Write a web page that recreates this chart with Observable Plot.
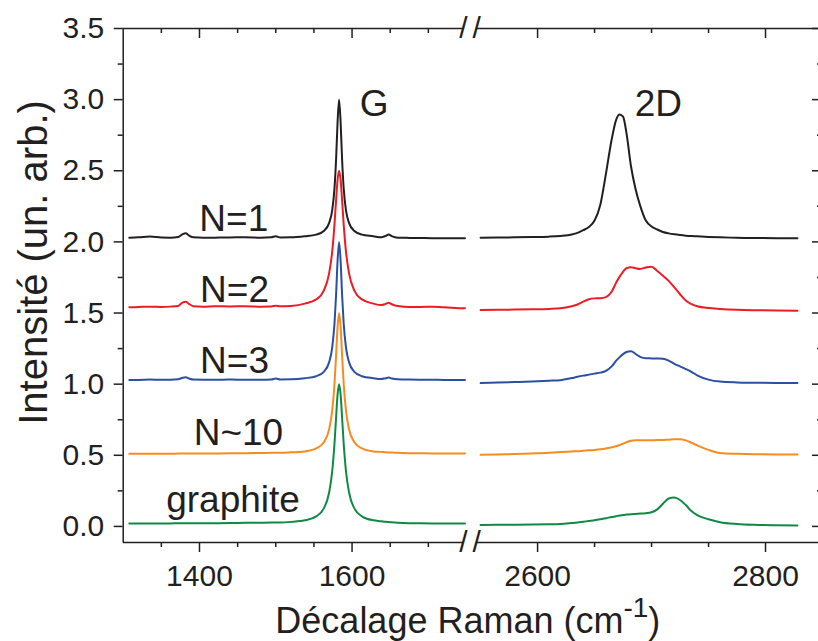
<!DOCTYPE html>
<html>
<head>
<meta charset="utf-8">
<script src="https://cdn.jsdelivr.net/npm/d3@7"></script>
<script src="https://cdn.jsdelivr.net/npm/@observablehq/plot@0.6"></script>
<style>
  body { margin: 0; background: #fff; }
  #chart svg { display: block; }
</style>
</head>
<body>
<div id="chart"></div>
<script>
// ---------- data ----------
const seriesNames = ["N=1", "N=2", "N=3", "N~10", "graphite"];
const seriesColors = ["#231f20", "#ed1c24", "#2b4fa2", "#f68b1f", "#0f8a45"];

// G-band region (cm-1)
const xG = [1308,1320,1335,1350,1362,1372,1378,1382,1386,1392,1405,1420,1440,1460,1480,1494,1500,1506,1520,
            1538,1553,1563,1570,1574,1577,1579,1581,1583,1585,1587,1589,1592,1596,1603,1613,1628,
            1638,1644,1648,1652,1660,1675,1690,1705,1720,1735,1748];

const yG_N1 = [2.030,2.032,2.038,2.031,2.030,2.034,2.055,2.060,2.046,2.032,2.030,2.030,2.031,2.033,2.030,2.032,2.040,2.031,2.032,
               2.040,2.051,2.077,2.134,2.224,2.379,2.572,2.840,3.000,2.840,2.572,2.379,2.224,2.134,2.077,2.051,2.040,
               2.032,2.042,2.052,2.041,2.030,2.028,2.027,2.026,2.026,2.025,2.025];
const yG_N2 = [1.540,1.542,1.545,1.543,1.545,1.550,1.575,1.580,1.565,1.548,1.545,1.548,1.546,1.548,1.545,1.546,1.552,1.547,1.550,
               1.566,1.596,1.658,1.780,1.933,2.125,2.288,2.436,2.500,2.436,2.288,2.125,1.933,1.780,1.658,1.596,1.566,
               1.556,1.564,1.572,1.562,1.549,1.543,1.543,1.544,1.540,1.536,1.534];
const yG_N3 = [1.030,1.030,1.032,1.031,1.031,1.034,1.045,1.048,1.040,1.032,1.031,1.031,1.032,1.031,1.031,1.033,1.040,1.033,1.034,
               1.042,1.056,1.087,1.155,1.259,1.428,1.621,1.866,2.000,1.866,1.621,1.428,1.259,1.155,1.087,1.056,1.042,
               1.036,1.042,1.046,1.040,1.034,1.032,1.031,1.031,1.030,1.030,1.030];
const yG_N10 = [0.510,0.510,0.511,0.511,0.511,0.512,0.512,0.512,0.512,0.512,0.513,0.513,0.514,0.515,0.516,0.517,0.518,0.518,0.521,
                0.527,0.548,0.592,0.684,0.815,1.005,1.195,1.401,1.500,1.401,1.195,1.005,0.815,0.684,0.592,0.548,0.527,
                0.524,0.521,0.520,0.519,0.517,0.515,0.514,0.513,0.513,0.512,0.512];
const yG_graphite = [0.020,0.020,0.021,0.021,0.021,0.022,0.022,0.022,0.022,0.022,0.023,0.023,0.024,0.025,0.026,0.027,0.028,0.028,0.032,
                     0.043,0.071,0.127,0.240,0.389,0.585,0.759,0.926,1.000,0.926,0.759,0.585,0.389,0.240,0.127,0.071,0.043,
                     0.037,0.033,0.031,0.029,0.026,0.023,0.022,0.021,0.020,0.020,0.020];

// 2D-band region (cm-1)
const x2D = [2550,2565,2580,2595,2610,2620,2630,2635,2640,2645,2650,2655,2660,2665,2669,2672,2675,2678,2682,2686,
             2690,2695,2700,2705,2710,2715,2720,2725,2730,2735,2740,2750,2760,2775,2790,2810,2828];

const y2D_N1 = [2.030,2.031,2.032,2.034,2.037,2.042,2.052,2.063,2.082,2.105,2.150,2.260,2.480,2.720,2.860,2.895,2.880,2.765,2.530,2.370,
                2.255,2.150,2.108,2.087,2.070,2.060,2.053,2.048,2.044,2.041,2.039,2.035,2.032,2.029,2.027,2.026,2.025];
const y2D_N2 = [1.522,1.523,1.524,1.526,1.529,1.533,1.548,1.560,1.580,1.597,1.603,1.604,1.612,1.650,1.715,1.756,1.790,1.815,1.822,1.815,
                1.810,1.820,1.826,1.795,1.762,1.726,1.680,1.632,1.588,1.563,1.548,1.535,1.529,1.523,1.520,1.518,1.516];
const y2D_N3 = [1.008,1.011,1.015,1.019,1.024,1.028,1.043,1.052,1.060,1.067,1.074,1.081,1.094,1.125,1.165,1.190,1.211,1.226,1.232,1.212,
                1.192,1.182,1.181,1.180,1.178,1.165,1.143,1.125,1.106,1.087,1.062,1.032,1.018,1.012,1.010,1.009,1.009];
const y2D_N10 = [0.503,0.506,0.509,0.513,0.518,0.523,0.527,0.529,0.532,0.535,0.538,0.542,0.548,0.556,0.563,0.572,0.582,0.592,0.602,0.606,
                 0.606,0.605,0.606,0.607,0.608,0.610,0.612,0.613,0.605,0.588,0.570,0.538,0.516,0.510,0.507,0.506,0.505];
const y2D_graphite = [0.010,0.011,0.012,0.013,0.015,0.017,0.024,0.028,0.033,0.038,0.043,0.050,0.058,0.066,0.072,0.077,0.080,0.083,0.086,0.088,
                      0.090,0.093,0.100,0.120,0.160,0.196,0.203,0.186,0.150,0.108,0.080,0.050,0.030,0.017,0.011,0.008,0.007];

// axis ticks
const majorX = [1400, 1600, 2600, 2800];
const minorX = [1350, 1450, 1500, 1550, 1650, 1700, 2650, 2700, 2750];
const majorY = [0, 0.5, 1, 1.5, 2, 2.5, 3, 3.5];
const minorY = [0.25, 0.75, 1.25, 1.75, 2.25, 2.75, 3.25];

// labels
const curveLabels = ["N=1", "N=2", "N=3", "N~10", "graphite"];
const curveLabelX = [1445, 1446, 1446, 1451, 1444];
const curveLabelY = [2.163, 1.664, 1.165, 0.659, 0.188];
const bandLabels = ["G", "2D"];
const bandLabelX = [1629, 2706];
const bandLabelY = [2.965, 2.965];
const yTitle = "Intensité (un. arb.)";
const xTitleParts = ["Décalage Raman (cm", "-1", ")"];

// broken axis
const xDomain = [1300, 1755, 2545, 2850];
const xRange = [122.7, 469.8, 474.4, 822];
const yDomain = [-0.113, 3.5];
const breakX = [1746, 2546.5];

// ---------- build table ----------
const yGAll = [yG_N1, yG_N2, yG_N3, yG_N10, yG_graphite];
const y2DAll = [y2D_N1, y2D_N2, y2D_N3, y2D_N10, y2D_graphite];
const rows = [];
seriesNames.forEach((name, i) => {
  xG.forEach((x, j) => rows.push({series: name, seg: "G", x, y: yGAll[i][j]}));
  x2D.forEach((x, j) => rows.push({series: name, seg: "2D", x, y: y2DAll[i][j]}));
});
const frameSegs = [{x1: xDomain[0], x2: breakX[0]}, {x1: breakX[1], x2: xDomain[3]}];
const breakMarks = breakX.flatMap(x => yDomain.map(y => ({x, y})));
const curveLabelData = curveLabels.map((t, i) => ({t, x: curveLabelX[i], y: curveLabelY[i]}));
const bandLabelData = bandLabels.map((t, i) => ({t, x: bandLabelX[i], y: bandLabelY[i]}));

const ink = "#231f20";
const font = "'Liberation Sans', Arial, Helvetica, sans-serif";

const plot = Plot.plot({
  width: 818,
  height: 641,
  marginLeft: 122.7,
  marginRight: -4,
  marginTop: 28,
  marginBottom: 99,
  style: {fontFamily: font, overflow: "hidden", background: "white", color: ink},
  x: {type: "linear", domain: xDomain, range: xRange},
  y: {domain: yDomain},
  color: {domain: seriesNames, range: seriesColors},
  marks: [
    Plot.line(rows, {x: "x", y: "y", z: d => d.series + "-" + d.seg, stroke: "series", strokeWidth: 2, curve: "monotone-x"}),
    // frame
    Plot.ruleX([xDomain[0], xDomain[3]], {stroke: ink, strokeWidth: 1.5}),
    Plot.ruleY(frameSegs, {y: yDomain[0], x1: "x1", x2: "x2", stroke: ink, strokeWidth: 1.5}),
    Plot.ruleY(frameSegs, {y: yDomain[1], x1: "x1", x2: "x2", stroke: ink, strokeWidth: 1.5}),
    Plot.text(breakMarks, {x: "x", y: "y", text: () => "/", fontSize: 30, fill: ink}),
    // bottom axis
    Plot.axisX(majorX, {anchor: "bottom", tickSize: 10, tickPadding: 12, fontSize: 30, tickFormat: d => String(d), label: null, strokeWidth: 1.5}),
    Plot.axisX(minorX, {anchor: "bottom", tickSize: 5, tickFormat: () => "", label: null, strokeWidth: 1.5}),
    // top ticks (inward)
    Plot.axisX(majorX, {anchor: "bottom", frameAnchor: "top", tickSize: 10, tickFormat: () => "", label: null, strokeWidth: 1.5}),
    Plot.axisX(minorX, {anchor: "bottom", frameAnchor: "top", tickSize: 5, tickFormat: () => "", label: null, strokeWidth: 1.5}),
    // left axis
    Plot.axisY(majorY, {anchor: "left", tickSize: 9, tickPadding: 10, fontSize: 30, tickFormat: d3.format(".1f"), label: null, strokeWidth: 1.5}),
    Plot.axisY(minorY, {anchor: "left", tickSize: 5, tickFormat: () => "", label: null, strokeWidth: 1.5}),
    // right ticks (inward)
    Plot.axisY(majorY, {anchor: "left", frameAnchor: "right", tickSize: 10, tickFormat: () => "", label: null, strokeWidth: 1.5}),
    Plot.axisY(minorY, {anchor: "left", frameAnchor: "right", tickSize: 5, tickFormat: () => "", label: null, strokeWidth: 1.5}),
    // annotations
    Plot.text(curveLabelData, {x: "x", y: "y", text: "t", fontSize: 37, fill: ink}),
    Plot.text(bandLabelData, {x: "x", y: "y", text: "t", fontSize: 37, fill: ink}),
    // axis titles
    Plot.text([yTitle], {text: d => d, frameAnchor: "left", textAnchor: "middle", lineAnchor: "middle", rotate: -90, dx: -89, dy: -23, fontSize: 40, fill: ink}),
    Plot.text([xTitleParts.join("")], {text: d => d, frameAnchor: "bottom", textAnchor: "middle", lineAnchor: "middle", dx: -5, dy: 79, fontSize: 36, fill: ink})
  ]
});

// superscript for cm-1
const svgNS = "http://www.w3.org/2000/svg";
const xt = [...plot.querySelectorAll("text")].find(e => e.textContent === xTitleParts.join(""));
if (xt) {
  xt.textContent = "";
  xt.appendChild(document.createTextNode(xTitleParts[0]));
  const sup = document.createElementNS(svgNS, "tspan");
  sup.setAttribute("dy", "-16");
  sup.setAttribute("font-size", "28");
  sup.textContent = xTitleParts[1];
  xt.appendChild(sup);
  const close = document.createElementNS(svgNS, "tspan");
  close.setAttribute("dy", "16");
  close.textContent = xTitleParts[2];
  xt.appendChild(close);
}
document.getElementById("chart").appendChild(plot);
</script>
</body>
</html>
